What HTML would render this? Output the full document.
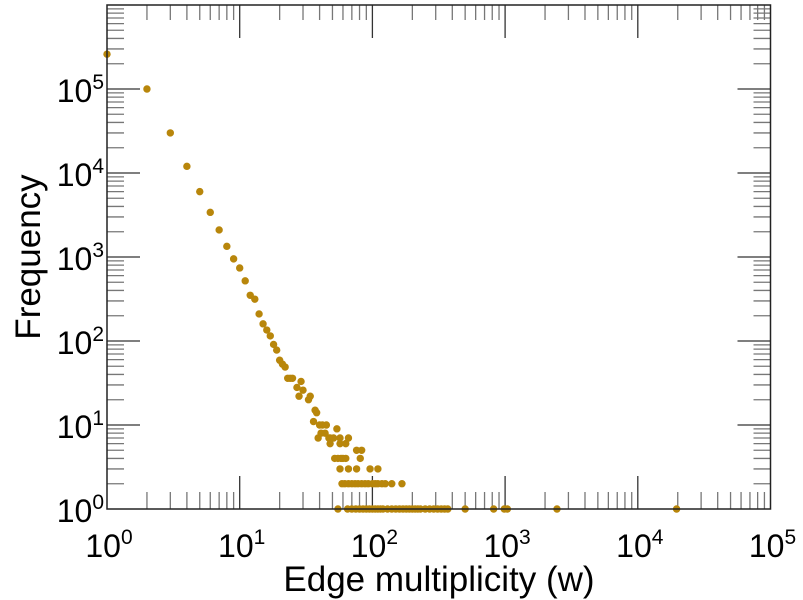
<!DOCTYPE html>
<html><head><meta charset="utf-8"><style>
body{margin:0;background:#fff;}
svg{display:block;font-family:"Liberation Sans",sans-serif;}
</style></head><body>
<svg id="chart" width="803" height="600" viewBox="0 0 803 600" xmlns="http://www.w3.org/2000/svg">
<rect x="0" y="0" width="803" height="600" fill="#fff"/>
<g id="ticks"></g>
<g id="points"></g>
<rect x="107" y="5" width="663.5" height="504" fill="none" stroke="#222" stroke-width="1.5"/>
<g id="labels"></g>
<text x="439" y="591" font-size="35" text-anchor="middle" fill="#000">Edge multiplicity (w)</text>
<text transform="translate(40,257) rotate(-90)" font-size="35" text-anchor="middle" fill="#000">Frequency</text>
</svg>
<script>
const xDecades = [0,1,2,3,4,5];
const yDecades = [0,1,2,3,4,5];
const wValues = [1,2,3,4,5,6,7,8,9,10,11,12,13,14,15,16,17,18,19,20,21,22,23,24,25,27,28,29,30,33,34,36,37,38,39,40,41,42,44,45,47,48,51,54,57,66,48,57,63,76,83,52,55,58,60,63,81,57,66,76,96,110,59,62,66,70,74,78,83,88,93,100,105,110,118,125,140,167,55,65,70,75,80,85,90,95,100,105,110,115,120,130,140,150,160,170,180,190,200,210,220,230,250,270,290,310,330,350,370,500,820,986,1040,2460,19600];
const freqValues = [260000,100000,30000,12000,6000,3400,2100,1340,950,740,520,350,315,210,160,135,115,91,78,59,53,49,36,36,36,28,22,33,26,20,22,11,15,14,7,10,8,10,8,10,7,7,7,9,7,7,6,6,6,5,5,4,4,4,4,4,4,3,3,3,3,3,2,2,2,2,2,2,2,2,2,2,2,2,2,2,2,2,1,1,1,1,1,1,1,1,1,1,1,1,1,1,1,1,1,1,1,1,1,1,1,1,1,1,1,1,1,1,1,1,1,1,1,1,1];

const X0=107,X1=770.5,Y0=509,Y1=5;
function xs(w){return X0+(Math.log10(w)-0)/5*(X1-X0);}
function ys(f){return Y0-(Math.log10(f)-0)/6*(Y0-Y1);}
const NS="http://www.w3.org/2000/svg";
const tg=document.getElementById('ticks');
function line(x1,y1,x2,y2,name,c){
  const l=document.createElementNS(NS,'line');
  l.setAttribute('x1',x1);l.setAttribute('y1',y1);l.setAttribute('x2',x2);l.setAttribute('y2',y2);
  l.setAttribute('stroke',c);l.setAttribute('stroke-width','1.3');
  
  
  tg.appendChild(l);
}
for(let d=0;d<5;d++){
  for(let k=1;k<10;k++){
    const x=xs(Math.pow(10,d)*k);
    const L=k==1?33:17, c=k==1?'#333':'#777';
    if(k==1&&d==0)continue;
    line(x,Y0,x,Y0-L,'x-tick',c);
    line(x,Y1,x,Y1+(k==1?33:15),'x-tick-top',c);
  }
}
for(let d=0;d<6;d++){
  for(let k=1;k<10;k++){
    const y=ys(Math.pow(10,d)*k);
    const L=k==1?33:17, c=k==1?'#333':'#777';
    if(k==1&&d==0)continue;
    line(X0,y,X0+L,y,'y-tick',c);
    line(X1,y,X1-L,y,'y-tick-right',c);
  }
}
const lg=document.getElementById('labels');
function lbl(x,y,exp,anchor,name){
  const t=document.createElementNS(NS,'text');
  t.setAttribute('x',x);t.setAttribute('y',y);t.setAttribute('font-size','32');
  t.setAttribute('text-anchor',anchor);t.setAttribute('fill','#000');
  
  
  const a=document.createElementNS(NS,'tspan');a.textContent='10';
  const b=document.createElementNS(NS,'tspan');b.textContent=String(exp);
  b.setAttribute('font-size','21');b.setAttribute('dy','-13');
  t.appendChild(a);t.appendChild(b);lg.appendChild(t);
}
xDecades.forEach(d=>lbl(xs(Math.pow(10,d))+2,557,d,'middle','x-tick-label'));
yDecades.forEach(d=>lbl(104,ys(Math.pow(10,d))+13,d,'end','y-tick-label'));
const pg=document.getElementById('points');
wValues.forEach((w,i)=>{
  const c=document.createElementNS(NS,'circle');
  c.setAttribute('cx',xs(w));c.setAttribute('cy',ys(freqValues[i]));
  c.setAttribute('r','3.7');c.setAttribute('fill','#b8860b');
  
  
  pg.appendChild(c);
});
</script>
</body></html>
